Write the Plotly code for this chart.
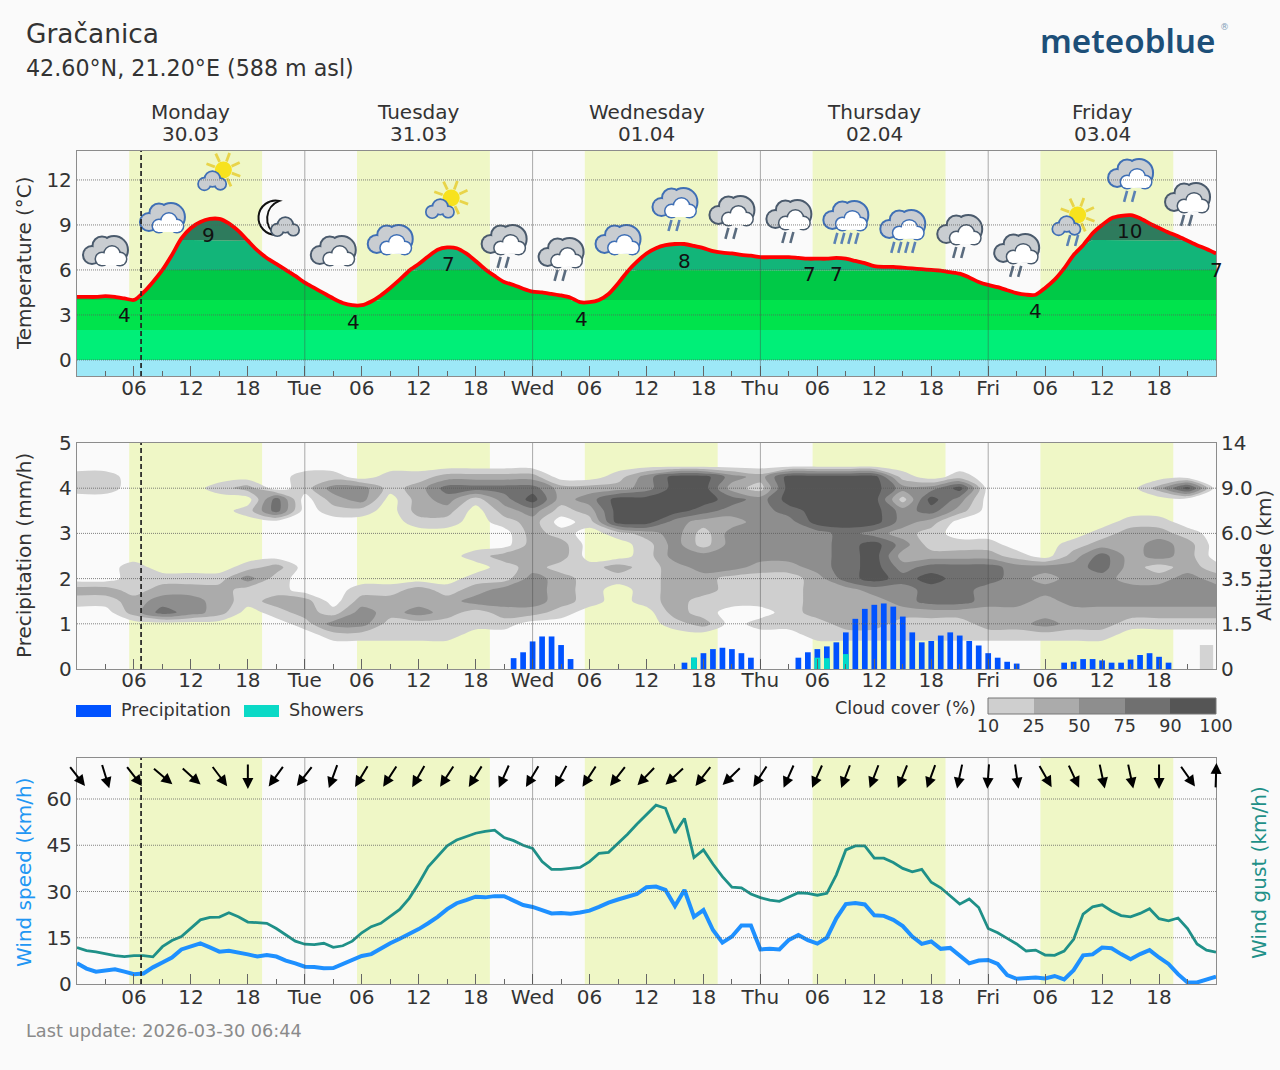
import base64
import math

import numpy as np
import plotly.graph_objects as go

WIDTH, HEIGHT = 1280, 1070
FONT = "DejaVu Sans"
INK = "#333333"
FRAME = "#8c8c8c"

hours = list(range(121))

temperature = [
    4.2, 4.2, 4.2, 4.25, 4.2, 4.1, 4.0, 4.5, 5.2, 6.0, 7.0, 8.1, 8.8, 9.2, 9.4, 9.4, 9.1, 8.6, 7.95, 7.3,
    6.8, 6.4, 6.0, 5.6, 5.15, 4.8, 4.45, 4.1, 3.8, 3.65, 3.65, 3.9, 4.3, 4.8, 5.35, 5.95, 6.4, 6.9, 7.35, 7.5,
    7.45, 7.1, 6.6, 6.05, 5.6, 5.2, 5.0, 4.75, 4.55, 4.5, 4.4, 4.3, 4.15, 3.85, 3.85, 4.0, 4.4, 5.1, 5.9, 6.55,
    7.1, 7.45, 7.65, 7.73, 7.73, 7.6, 7.45, 7.25, 7.15, 7.1, 7.0, 6.95, 6.85, 6.85, 6.85, 6.85, 6.8, 6.75, 6.75, 6.75,
    6.8, 6.75, 6.6, 6.45, 6.25, 6.2, 6.2, 6.15, 6.1, 6.05, 6.0, 5.95, 5.85, 5.75, 5.5, 5.2, 5.0, 4.85, 4.65, 4.45,
    4.35, 4.35, 4.8, 5.35, 6.1, 7.0, 7.65, 8.45, 9.0, 9.45, 9.6, 9.65, 9.45, 9.1, 8.8, 8.5, 8.25, 7.95, 7.65, 7.4,
    7.1,
]

band_edges = [0, 2, 4, 6, 8, 10]
band_colors = ["#00ef78", "#00e34c", "#00c947", "#12b579", "#2e7b5d"]

extreme_labels = ["4", "9", "4", "7", "4", "8", "7", "7", "4", "10", "7"]
extreme_hours = [5.0, 13.9, 29.1, 39.1, 53.1, 64.0, 77.2, 80.0, 101.0, 110.9, 120.0]
extreme_levels = [3.0, 8.3, 2.55, 6.4, 2.75, 6.6, 5.7, 5.7, 3.25, 8.6, 6.0]

icon_hours = [3, 9, 15, 21, 27, 33, 39, 45, 51, 57, 63, 69, 75, 81, 87, 93, 99, 105, 111, 117]
icon_levels = [7.13, 9.33, 12.33, 9.47, 7.13, 7.87, 10.47, 7.87, 7.0, 7.87, 10.33, 9.8, 9.53, 9.47, 8.87, 8.53, 7.27, 9.33, 12.27, 10.67]
icon_kinds = ["night", "day", "sun", "moon", "night", "day", "sun", "night", "night", "day", "day", "night",
              "night", "day", "day", "night", "night", "sun", "day", "night"]
icon_drops = [0, 0, 0, 0, 0, 0, 0, 2, 2, 0, 2, 2, 2, 4, 4, 2, 2, 2, 2, 2]

cloud_hours = list(range(0, 121, 3))
cloud_levels = [4.5, 4.25, 4.0, 3.75, 3.5, 3.25, 3.0, 2.75, 2.5, 2.25, 2.0, 1.75, 1.5, 1.25, 1.0, 0.75, 0.5]
# one string per 3-hour column, top level first; each digit is a cover class (0 = under 10 %)
cloud_columns = [
    "01100000000210000", "01100000000210000", "00000000011122000", "00000000001234000",
    "00000000001233000", "00100000001222000", "00201000013110000", "00044000021121000",
    "01100000000022100", "01321000000001310", "00331000000123310", "01100000000122110",
    "01222100000223110", "02432100000122110", "02410000101231100", "02432100211332100",
    "02453222223332000", "00221012212221000", "00232100011110000", "01255510021000000",
    "03355521111110000", "05555333322222100", "05554211332211200", "03243233331110000",
    "02133333321110100", "05554333321111100", "05555533332222110", "05555544444222210",
    "05555535555322210", "01313323234332110", "00354211245442110", "01532001244442110",
    "00000001244332210", "00000000133332210", "00000000032322310", "00000001233332210",
    "00000012443332210", "00000122222332100", "00200123312332100", "00500012223332100",
    "00000000012332100",
]
cloud_class_colors = ["#cfcfcf", "#ababab", "#8e8e8e", "#707070", "#555555"]
cloud_scale_labels = ["10", "25", "50", "75", "90", "100"]

precip_hours = [46, 47, 48, 49, 50, 51, 52,
                64, 65, 66, 67, 68, 69, 70, 71,
                76, 77, 78, 79, 80, 81, 82, 83, 84, 85, 86, 87, 88, 89, 90, 91, 92, 93, 94, 95, 96, 97, 98, 99,
                104, 105, 106, 107, 108, 109, 110, 111, 112, 113, 114, 115]
precip_values = [0.24, 0.37, 0.61, 0.72, 0.72, 0.53, 0.22,
                 0.14, 0.25, 0.35, 0.44, 0.47, 0.44, 0.35, 0.25,
                 0.25, 0.37, 0.44, 0.5, 0.59, 0.81, 1.11, 1.33, 1.42, 1.45, 1.38, 1.16, 0.81, 0.59, 0.62, 0.74, 0.81,
                 0.74, 0.62, 0.52, 0.35, 0.25, 0.16, 0.12,
                 0.14, 0.16, 0.22, 0.22, 0.19, 0.14, 0.14, 0.21, 0.31, 0.35, 0.27, 0.14]
shower_hours = [65, 78, 79, 81]
shower_values = [0.25, 0.25, 0.24, 0.33]
snow_hint_hours = [119]
snow_hint_values = [0.53]

altitude_labels = ["0", "1.5", "3.5", "6.0", "9.0", "14"]

wind_speed = [
    6.7, 5.0, 4.0, 4.5, 4.8, 4.0, 3.2, 3.4, 5.4, 7.0, 8.6, 11.2, 12.1, 13.2, 11.9, 10.5, 10.8, 10.3, 9.6, 8.9,
    9.4, 8.9, 7.6, 6.7, 5.6, 5.5, 5.1, 5.2, 6.4, 7.6, 9.1, 9.7, 11.6, 13.2, 14.7, 16.2, 17.8, 19.7, 21.8, 24.3,
    26.2, 27.2, 28.3, 28.1, 28.5, 28.5, 27.0, 25.6, 25.0, 23.8, 22.9, 23.0, 22.8, 23.2, 23.8, 25.0, 26.4, 27.4, 28.2, 29.2,
    31.4, 31.6, 30.5, 25.3, 30.5, 21.8, 24.0, 17.5, 13.4, 15.4, 19.0, 19.0, 11.2, 11.4, 11.2, 14.3, 15.9, 14.2, 13.1, 15.0,
    21.3, 25.9, 26.3, 25.8, 22.3, 22.1, 20.8, 18.8, 15.4, 13.0, 13.8, 11.4, 11.7, 9.2, 6.7, 7.6, 7.8, 6.5, 2.9, 1.7,
    1.9, 2.1, 1.8, 2.6, 1.5, 4.5, 9.3, 9.6, 11.8, 11.6, 9.7, 8.0, 9.7, 11.0, 8.6, 6.5, 3.2, 0.5, 0.5, 1.5,
    2.4,
]
wind_gust = [
    11.8, 10.8, 10.4, 9.7, 9.2, 8.9, 9.2, 9.2, 8.8, 12.1, 14.1, 15.4, 18.0, 20.8, 21.6, 21.7, 23.1, 21.8, 20.1, 20.0,
    19.7, 18.0, 15.9, 13.9, 12.9, 12.8, 13.2, 11.9, 12.4, 13.9, 16.6, 18.6, 19.7, 22.0, 24.2, 27.8, 32.6, 38.0, 41.3, 44.8,
    46.7, 47.8, 48.9, 49.5, 49.9, 47.5, 46.5, 45.0, 44.0, 39.7, 37.2, 37.2, 37.5, 37.8, 39.7, 42.4, 42.7, 45.6, 48.6, 51.9,
    55.0, 58.0, 57.0, 49.0, 53.7, 41.0, 43.5, 38.9, 34.8, 31.4, 31.2, 29.2, 28.0, 27.2, 26.8, 28.3, 29.6, 29.4, 28.8, 29.4,
    35.4, 43.5, 44.8, 44.8, 40.8, 40.8, 39.4, 37.5, 36.4, 37.2, 33.0, 31.2, 28.6, 25.9, 27.6, 24.8, 18.0, 16.6, 14.8, 13.0,
    10.7, 11.0, 9.4, 9.3, 10.7, 14.5, 22.7, 25.0, 25.7, 23.7, 22.2, 21.8, 22.9, 24.4, 21.2, 20.5, 21.4, 18.0, 13.0, 11.0,
    10.3,
]
arrow_hours = list(range(0, 121, 3))
arrow_bearings = [142, 163, 142, 130, 132, 143, 180, 216, 218, 200, 211, 213, 210, 213, 212, 204, 211,
                  208, 213, 218, 224, 227, 218, 226, 213, 204, 204, 201, 201, 202, 200, 192, 184, 172,
                  150, 155, 168, 168, 180, 145, 2]

daylight_starts = [5.5, 29.5, 53.5, 77.5, 101.5]
daylight_ends = [19.5, 43.5, 67.5, 91.5, 115.5]
day_names = ["Monday", "Tuesday", "Wednesday", "Thursday", "Friday"]
day_dates = ["30.03", "31.03", "01.04", "02.04", "03.04"]
weekday_ticks = {24: "Tue", 48: "Wed", 72: "Thu", 96: "Fri"}
now_hour = 6.75


def px(x):
    return x / WIDTH


def py(y):
    return 1 - y / HEIGHT


# ---- weather symbols, written as small SVG images ----
def circles(items, fill, stroke=None, width=0):
    out = ""
    for cx, cy, r in items:
        extra = f' stroke="{stroke}" stroke-width="{width}"' if stroke else ""
        out += f'<circle cx="{cx}" cy="{cy}" r="{r}" fill="{fill}"{extra}/>'
    return out


def two_tone_cloud(edge):
    back = [(15, 34, 8), (25, 25, 8.5), (37, 29, 13)]
    front = [(25, 38, 6), (35, 33, 7.5), (43, 38, 6)]
    body = '<rect x="24" y="37" width="20" height="7" fill="#fff"/>'
    return (
        '<g transform="translate(3.5 0)">'
        + circles(back, edge, edge, 4)
        + circles(back, "#c9cdd1")
        + circles(front, edge, edge, 3)
        + circles(front, "#ffffff")
        + body
        + "</g>"
    )


def small_cloud(cx, cy, edge, fill):
    parts = [(cx - 8, cy + 3, 5.5), (cx, cy - 2, 7), (cx + 8, cy + 3, 5)]
    return circles(parts, edge, edge, 3.4) + circles(parts, fill)


def rain(count, color):
    xs = {2: [27, 35], 4: [22, 29, 36, 43]}.get(count, [])
    return "".join(
        f'<line x1="{x + 1.5}" y1="47" x2="{x - 1.5}" y2="58" stroke="{color}" stroke-width="2.6"/>' for x in xs
    )


def sun(cx, cy):
    rays = ""
    for ang in range(20, 380, 45):
        a = math.radians(ang)
        rays += (
            f'<line x1="{cx + 9 * math.sin(a):.1f}" y1="{cy - 9 * math.cos(a):.1f}" '
            f'x2="{cx + 18 * math.sin(a):.1f}" y2="{cy - 18 * math.cos(a):.1f}" '
            'stroke="#e8d44a" stroke-width="2.8"/>'
        )
    return rays + f'<circle cx="{cx}" cy="{cy}" r="8.5" fill="#f7e21e"/>'


def symbol(kind, drops):
    if kind == "sun":
        art = sun(36, 27) + small_cloud(25, 38, "#3f6fb5", "#c9cdd1") + rain(drops, "#5b82b4")
    elif kind == "moon":
        art = (
            '<path d="M35 15 A17.2 17.2 0 1 0 32 49 A19 19 0 0 1 35 15 Z" fill="#fafafa" stroke="#111" stroke-width="2"/>'
            + small_cloud(41, 41, "#46586c", "#c9cdd1")
        )
    else:
        edge = "#3f6fb5" if kind == "day" else "#4a5a6c"
        art = two_tone_cloud(edge) + rain(drops, "#5b82b4" if kind == "day" else "#5a6b7e")
    svg = f'<svg xmlns="http://www.w3.org/2000/svg" width="64" height="64" viewBox="0 0 64 64">{art}</svg>'
    return "data:image/svg+xml;base64," + base64.b64encode(svg.encode()).decode()


fig = go.Figure()

# ---- temperature panel ----
t = np.array(temperature)
for lo, hi, color in zip(band_edges[:-1], band_edges[1:], band_colors):
    fig.add_trace(go.Scatter(x=hours, y=np.minimum(t, lo), mode="lines", line=dict(width=0),
                             showlegend=False, hoverinfo="skip", xaxis="x", yaxis="y"))
    fig.add_trace(go.Scatter(x=hours, y=np.minimum(t, hi), mode="lines", line=dict(width=0),
                             fill="tonexty", fillcolor=color, showlegend=False, hoverinfo="skip",
                             xaxis="x", yaxis="y"))
fig.add_trace(go.Scatter(x=hours, y=temperature, mode="lines", line=dict(color="#ff0000", width=3.8, shape="spline", smoothing=0.7),
                         showlegend=False, xaxis="x", yaxis="y"))

# ---- cloud and precipitation panel ----
cloud_z = np.array([[int(c) for c in col] for col in cloud_columns]).T
n_classes = len(cloud_class_colors)
scale = [[0, "rgba(255,255,255,0)"], [0.5 / n_classes, "rgba(255,255,255,0)"]]
for i, color in enumerate(cloud_class_colors):
    scale += [[(i + 0.5) / n_classes, color], [min((i + 1.5) / n_classes, 1), color]]
fig.add_trace(go.Contour(x=cloud_hours, y=cloud_levels, z=cloud_z, zmin=0, zmax=n_classes, colorscale=scale,
                         autocontour=False, contours=dict(start=0.5, end=n_classes - 0.5, size=1, coloring="fill", showlines=False),
                         line=dict(width=0, smoothing=0.9), showscale=False, hoverinfo="skip", xaxis="x2", yaxis="y2"))
fig.add_trace(go.Bar(x=precip_hours, y=precip_values, width=0.6, marker=dict(color="#0052ff", line_width=0),
                     showlegend=False, xaxis="x2", yaxis="y2"))
fig.add_trace(go.Bar(x=shower_hours, y=shower_values, width=0.6, marker=dict(color="#00dcc8", line_width=0),
                     showlegend=False, xaxis="x2", yaxis="y2"))
fig.add_trace(go.Bar(x=snow_hint_hours, y=snow_hint_values, width=1.4, marker=dict(color="#d3d3d3", line_width=0),
                     showlegend=False, xaxis="x2", yaxis="y4"))

# ---- cloud cover scale ----
fig.add_trace(go.Heatmap(x=[i + 0.5 for i in range(n_classes)], y=[0], z=[list(range(n_classes))],
                         colorscale=[[i / (n_classes - 1), c] for i, c in enumerate(cloud_class_colors)],
                         showscale=False, hoverinfo="skip", xaxis="x4", yaxis="y5"))

# ---- wind panel ----
fig.add_trace(go.Scatter(x=hours, y=wind_gust, mode="lines", line=dict(color="#1f9088", width=2.8),
                         showlegend=False, xaxis="x3", yaxis="y3"))
fig.add_trace(go.Scatter(x=hours, y=wind_speed, mode="lines", line=dict(color="#1e90ff", width=4),
                         showlegend=False, xaxis="x3", yaxis="y3"))

tickvals = [h for h in range(6, 120, 6)]
ticktext = [weekday_ticks.get(h, f"{h % 24:02d}") for h in tickvals]
minor_vals = [h for h in range(3, 120, 6)]


def time_axis(anchor, standoff=-7):
    return dict(
        domain=[px(77), px(1216)], range=[0, 120], anchor=anchor, tickmode="array", tickvals=tickvals,
        ticktext=ticktext, ticks="inside", ticklen=10, tickwidth=1, tickcolor="#666666",
        ticklabelstandoff=standoff,
        minor=dict(tickmode="array", tickvals=minor_vals, ticks="inside", ticklen=5, tickwidth=1, tickcolor="#666666"),
        showline=True, linecolor=FRAME, linewidth=1.3, mirror=True, showgrid=False, zeroline=False,
        tickfont=dict(family=FONT, size=20, color=INK), automargin=False,
    )


def value_axis(anchor, top, bottom, rng, vals):
    return dict(
        domain=[py(bottom), py(top)], range=rng, anchor=anchor, tickmode="array", tickvals=vals,
        ticks="", showline=True, linecolor=FRAME, linewidth=1.3, mirror=True, showgrid=False, zeroline=False,
        tickfont=dict(family=FONT, size=20, color=INK), automargin=False,
    )


layout = dict(
    template="none",
    width=WIDTH, height=HEIGHT, autosize=False, margin=dict(l=0, r=0, t=0, b=0, pad=0, autoexpand=False),
    paper_bgcolor="#fafafa", plot_bgcolor="#fafafa", barmode="overlay", showlegend=False,
    font=dict(family=FONT, size=20, color=INK),
    xaxis=time_axis("y", -6),
    yaxis=value_axis("x", 151, 376, [-1.07, 13.93], [0, 3, 6, 9, 12]),
    xaxis2=time_axis("y2"),
    yaxis2=value_axis("x2", 443, 669, [0, 5], [0, 1, 2, 3, 4, 5]),
    xaxis3=time_axis("y3", -5),
    yaxis3=value_axis("x3", 758, 984, [0, 73.3], [0, 15, 30, 45, 60]),
    yaxis4=dict(overlaying="y2", side="right", anchor="x2", range=[0, 5], tickmode="array",
                tickvals=[0, 1, 2, 3, 4, 5], ticktext=altitude_labels, ticks="", showgrid=False, zeroline=False,
                ticklabelstandoff=4, tickfont=dict(family=FONT, size=20, color=INK), automargin=False),
    xaxis4=dict(domain=[px(988), px(1216)], range=[0, n_classes], anchor="y5", tickmode="array",
                tickvals=list(range(n_classes + 1)), ticktext=cloud_scale_labels, ticks="", showgrid=False,
                zeroline=False, showline=False, ticklabelstandoff=-1,
                tickfont=dict(family=FONT, size=17.6, color=INK), automargin=False),
    yaxis5=dict(domain=[py(714), py(698)], range=[-0.5, 0.5], anchor="x4", showticklabels=False, ticks="",
                showgrid=False, zeroline=False, showline=False, automargin=False),
)

shapes = []
panels = [("x", "y", [0, 3, 6, 9, 12]), ("x2", "y2", [1, 2, 3, 4]), ("x3", "y3", [15, 30, 45, 60])]
for xa, ya, levels in panels:
    for start, end in zip(daylight_starts, daylight_ends):
        shapes.append(dict(type="rect", xref=xa, yref=f"{ya} domain", x0=start, x1=end, y0=0, y1=1,
                           fillcolor="#eff7c6", line_width=0, layer="below"))
shapes.append(dict(type="rect", xref="x domain", yref="y", x0=0, x1=1, y0=-1.07, y1=0,
                   fillcolor="#9de8f7", line_width=0, layer="below"))
for xa, ya, levels in panels:
    for level in levels:
        shapes.append(dict(type="line", xref=f"{xa} domain", yref=ya, x0=0, x1=1, y0=level, y1=level,
                           line=dict(color="rgba(90,90,90,0.75)", width=1, dash="1px,1px"), layer="above"))
    for boundary in weekday_ticks:
        shapes.append(dict(type="line", xref=xa, yref=f"{ya} domain", x0=boundary, x1=boundary, y0=0, y1=1,
                           line=dict(color="rgba(70,70,70,0.45)", width=1), layer="above"))
    shapes.append(dict(type="line", xref=xa, yref=f"{ya} domain", x0=now_hour, x1=now_hour, y0=0, y1=1,
                       line=dict(color="#222222", width=1.7, dash="5px,3px"), layer="above"))

# legend swatches
shapes.append(dict(type="rect", xref="paper", yref="paper", x0=px(76), x1=px(111), y0=py(717), y1=py(705),
                   fillcolor="#0052ff", line_width=0))
shapes.append(dict(type="rect", xref="paper", yref="paper", x0=px(244), x1=px(279), y0=py(717), y1=py(705),
                   fillcolor="#0ad9c6", line_width=0))
shapes.append(dict(type="rect", xref="paper", yref="paper", x0=px(988), x1=px(1216), y0=py(714), y1=py(698),
                   line=dict(color="#777777", width=1), fillcolor="rgba(0,0,0,0)"))
layout["shapes"] = shapes

annotations = []


def text(x, y, s, size=20, color=INK, anchor="left", angle=0, family=FONT, weight=None):
    nudge = {"left": -2, "right": 2}.get(anchor, 0)
    annotations.append(dict(xref="paper", yref="paper", x=px(x + nudge), y=py(y), text=s, showarrow=False,
                            xanchor=anchor, yanchor="middle", textangle=angle,
                            font=dict(family=family, size=size, color=color, weight=weight)))


text(26, 33, "Gračanica", size=26.4)
text(26, 68, "42.60°N, 21.20°E (588 m asl)", size=22.2)
text(1127, 40, "meteoblue", size=33.2, color="#1d4f78", anchor="center", family="Noto Sans", weight=600)
text(1224, 27, "®", size=9, color="#7fa0b8", anchor="center")
text(26, 1031, "Last update: 2026-03-30 06:44", size=17.7, color="#8a8a8a")
text(24, 263, "Temperature (°C)", angle=-90, anchor="center")
text(24, 556, "Precipitation (mm/h)", angle=-90, anchor="center")
text(1264, 556, "Altitude (km)", angle=-90, anchor="center")
text(24, 873, "Wind speed (km/h)", angle=-90, anchor="center", color="#2196f3")
text(1259, 873, "Wind gust (km/h)", angle=-90, anchor="center", color="#1f9088")
text(121, 710, "Precipitation", size=17.6)
text(289, 710, "Showers", size=17.6)
text(976, 708, "Cloud cover (%)", size=17.6, anchor="right")

for i, (name, date) in enumerate(zip(day_names, day_dates)):
    noon = 12 + 24 * i
    annotations.append(dict(xref="x", yref="paper", x=noon, y=py(112), text=name, showarrow=False,
                            xanchor="center", yanchor="middle", font=dict(family=FONT, size=20, color=INK)))
    annotations.append(dict(xref="x", yref="paper", x=noon, y=py(134), text=date, showarrow=False,
                            xanchor="center", yanchor="middle", font=dict(family=FONT, size=20, color=INK)))

for label, h, level in zip(extreme_labels, extreme_hours, extreme_levels):
    annotations.append(dict(xref="x", yref="y", x=h, y=level, text=label, showarrow=False,
                            font=dict(family=FONT, size=20, color="#111111")))

ARROW_LEN = 26
for h, bearing in zip(arrow_hours, arrow_bearings):
    a = math.radians(bearing)
    dx, dy = math.sin(a) * ARROW_LEN, -math.cos(a) * ARROW_LEN
    annotations.append(dict(xref="x3", yref="y3", x=h, y=67.5, text="", showarrow=True, arrowhead=2,
                            arrowsize=1.1, arrowwidth=2, arrowcolor="#000000", ax=-dx, ay=-dy,
                            xshift=dx / 2, yshift=-dy / 2))
layout["annotations"] = annotations

images = []
for h, level, kind, drops in zip(icon_hours, icon_levels, icon_kinds, icon_drops):
    images.append(dict(source=symbol(kind, drops), xref="x", yref="y", x=h, y=level, sizex=64 / 9.49, sizey=64 / 15,
                       xanchor="center", yanchor="middle", sizing="contain", layer="above"))
layout["images"] = images

fig.update_layout(**layout)
fig.write_html("out.html")
